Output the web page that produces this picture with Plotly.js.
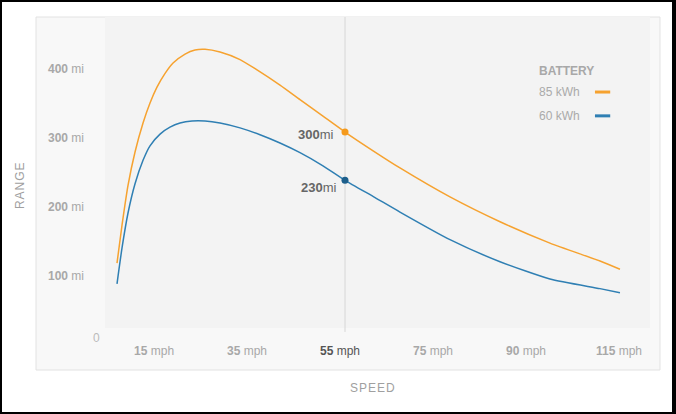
<!DOCTYPE html>
<html>
<head>
<meta charset="utf-8">
<script src="https://cdn.plot.ly/plotly-3.0.1.min.js"></script>
<style>
  html, body { margin: 0; padding: 0; width: 676px; height: 414px; background: #000; overflow: hidden; }
  #chart { position: absolute; left: 2px; top: 2px; width: 670px; height: 410px; background: #fff; }
</style>
</head>
<body>
<div id="chart"></div>
<script>
// Tick labels (evenly spaced speed categories)
const speedLabels = ['15', '35', '55', '75', '90', '115'];
const speedTickPos = [0, 1, 2, 3, 4, 5];
const rangeTicks = [100, 200, 300, 400];

// Curve positions along the speed axis (in tick-position units)
const speedPos = [-0.452, -0.398, -0.333, -0.258, -0.172, -0.097, -0.022, 0.065, 0.151, 0.280, 0.387, 0.495,
                  0.656, 0.871, 1.054, 1.301, 1.516, 1.763, 2.0, 2.323, 2.591, 3.129, 3.667, 4.204, 4.742, 4.957];
const range85 = [110, 165, 223, 271, 313, 342, 365, 385, 400, 413, 419, 420,
                 416, 405, 390, 368, 347, 323, 300, 271, 248, 206, 170, 139, 113, 101];
const speedPos60 = [-0.452, -0.398, -0.333, -0.258, -0.172, -0.097, 0.011, 0.118, 0.226, 0.355, 0.495, 0.656,
                    0.871, 1.086, 1.301, 1.516, 1.763, 2.0, 2.323, 2.591, 3.129, 3.667, 4.204, 4.742, 4.957];
const range60 = [80, 132, 183, 225, 259, 280, 297, 307, 313, 316, 316, 313,
                 306, 296, 284, 270, 251, 230, 205, 184, 144, 112, 87, 73, 67];

// Highlighted values at 55 mph
const highlightPos = 2;
const highlight85 = 300;
const highlight60 = 230;

const seriesNames = ['85 kWh', '60 kWh'];
const colors = ['#f6a22f', '#2f7fb3'];
const dotColors = ['#f59a1c', '#1d5f8c'];

const font = 'Liberation Sans, Arial, Helvetica, sans-serif';
const hs = '\u200a';

const traces = [
  { x: speedPos, y: range85, type: 'scatter', mode: 'lines', name: seriesNames[0],
    line: { color: colors[0], width: 1.5, shape: 'spline', smoothing: 0.6 }, hoverinfo: 'skip' },
  { x: speedPos60, y: range60, type: 'scatter', mode: 'lines', name: seriesNames[1],
    line: { color: colors[1], width: 1.5, shape: 'spline', smoothing: 0.6 }, hoverinfo: 'skip' },
  { x: [highlightPos, highlightPos], y: [highlight85, highlight60], type: 'scatter', mode: 'markers',
    marker: { color: dotColors, size: 7 }, hoverinfo: 'skip' }
];

const tickText = speedLabels.map((s, i) => i === 2
  ? '<span style="color:#555"><b>' + s + '</b> mph</span>'
  : '<b>' + s + '</b> mph');

const layout = {
  width: 670, height: 410,
  margin: { l: 103, r: 22, t: 15, b: 73 },
  paper_bgcolor: '#ffffff',
  plot_bgcolor: 'rgba(0,0,0,0)',
  showlegend: false,
  font: { family: font, color: '#aaa', size: 12 },
  xaxis: {
    range: [-0.581, 5.28], showgrid: false, zeroline: false, showline: false,
    tickvals: speedTickPos, ticktext: tickText, ticks: '',
    tickfont: { family: font, size: 12, color: '#a8a8a8' },
    ticklabelstandoff: 3, ticklabelshift: -5, fixedrange: true
  },
  yaxis: {
    range: [0, 466.7], showgrid: false, zeroline: false, showline: false,
    tickvals: rangeTicks, ticktext: rangeTicks.map(v => '<b>' + v + '</b> mi'), ticks: '',
    tickfont: { family: font, size: 12, color: '#a8a8a8' },
    ticklabelstandoff: 20, ticklabelshift: 6, fixedrange: true
  },
  shapes: [
    { type: 'rect', xref: 'paper', yref: 'paper', x0: -0.1266, x1: 1.0183, y0: -0.0963, y1: 1.0,
      fillcolor: '#f8f8f8', line: { color: '#e2e2e2', width: 1 }, layer: 'below' },
    { type: 'rect', xref: 'paper', yref: 'paper', x0: 0, x1: 1, y0: 0.034, y1: 1.0,
      fillcolor: '#f3f3f3', line: { width: 0 }, layer: 'below' },
    { type: 'line', xref: 'x', yref: 'paper', x0: highlightPos, x1: highlightPos, y0: 0.022, y1: 1.0,
      line: { color: '#d6d6d6', width: 1 }, layer: 'below' },
    { type: 'line', xref: 'paper', yref: 'paper', x0: 0.899, x1: 0.927, y0: 0.767, y1: 0.767,
      line: { color: colors[0], width: 3 } },
    { type: 'line', xref: 'paper', yref: 'paper', x0: 0.899, x1: 0.927, y0: 0.693, y1: 0.693,
      line: { color: colors[1], width: 3 } }
  ],
  annotations: [
    { xref: 'x', yref: 'y', x: highlightPos, y: highlight85, xanchor: 'right', yanchor: 'middle',
      xshift: -9, yshift: -2, showarrow: false,
      text: '<b>' + highlight85 + '</b>mi', font: { family: font, size: 13, color: '#666' } },
    { xref: 'x', yref: 'y', x: highlightPos, y: highlight60, xanchor: 'right', yanchor: 'middle',
      xshift: -6, yshift: -7, showarrow: false,
      text: '<b>' + highlight60 + '</b>mi', font: { family: font, size: 13, color: '#666' } },
    { xref: 'paper', yref: 'paper', x: -0.0165, y: 0.003, xanchor: 'center', yanchor: 'middle',
      showarrow: false, text: '0', font: { family: font, size: 12, color: '#bbb' } },
    { xref: 'paper', yref: 'paper', x: -0.156, y: 0.478, xanchor: 'center', yanchor: 'middle',
      showarrow: false, textangle: -90, text: 'RANGE'.split('').join(hs), font: { family: font, size: 12, color: '#a0a0a0' } },
    { xref: 'paper', yref: 'paper', x: 0.4917, y: -0.152, xanchor: 'center', yanchor: 'middle',
      showarrow: false, text: 'SPEED'.split('').join(hs), font: { family: font, size: 12, color: '#a0a0a0' } },
    { xref: 'paper', yref: 'paper', x: 0.7927, y: 0.833, xanchor: 'left', yanchor: 'middle',
      showarrow: false, text: '<b>BATTERY</b>', font: { family: font, size: 12, color: '#a8a8a8' } },
    { xref: 'paper', yref: 'paper', x: 0.7927, y: 0.767, xanchor: 'left', yanchor: 'middle',
      showarrow: false, text: seriesNames[0], font: { family: font, size: 12, color: '#aaa' } },
    { xref: 'paper', yref: 'paper', x: 0.7927, y: 0.693, xanchor: 'left', yanchor: 'middle',
      showarrow: false, text: seriesNames[1], font: { family: font, size: 12, color: '#aaa' } }
  ]
};

Plotly.newPlot('chart', traces, layout, { staticPlot: true, displayModeBar: false });
</script>
</body>
</html>
